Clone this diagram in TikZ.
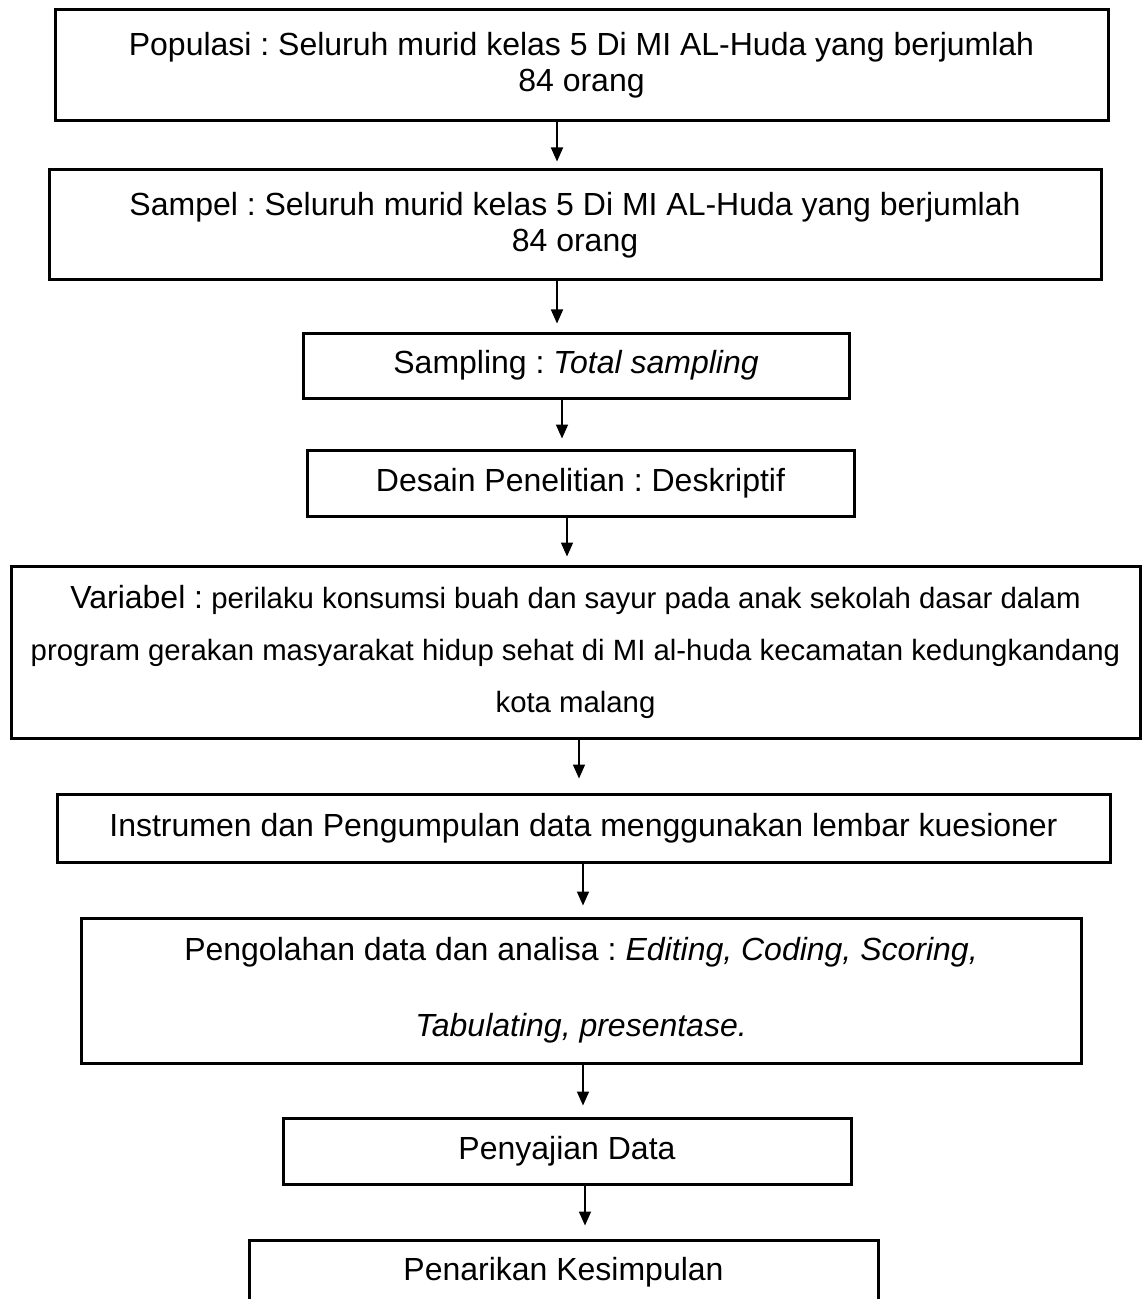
\documentclass[tikz,border=0pt]{standalone}
\usepackage{fontspec}
\setmainfont{Liberation Sans}
\usetikzlibrary{arrows.meta}
\frenchspacing
\begin{document}
\begin{tikzpicture}[x=0.5pt,y=-0.5pt,
  box/.style={draw, line width=1.5pt, inner sep=0pt, align=center,
    font=\fontsize{16}{18}\selectfont},
  arr/.style={line width=0.85pt, -{Triangle[length=7pt,width=6pt]}}]
\useasboundingbox (0,0) rectangle (1142,1299);
\clip (0,0) rectangle (1142,1299);
% boxes
\node[box, minimum width=526.5pt, minimum height=55.5pt] (b1) at (581.5,65.5)
  {Populasi : Seluruh murid kelas 5 Di MI AL-Huda yang berjumlah\\84 orang};
\node[box, minimum width=526pt, minimum height=55pt] (b2) at (575,225)
  {Sampel : Seluruh murid kelas 5 Di MI AL-Huda yang berjumlah\\84 orang};
\node[box, minimum width=273pt, minimum height=32.5pt] (b3) at (576,365.5)
  {Sampling : \textit{Total sampling}};
\node[box, minimum width=273.5pt, minimum height=33pt] (b4) at (580.5,483)
  {Desain Penelitian : Deskriptif};
\node[box, minimum width=564.5pt, minimum height=86pt,
      font=\fontsize{14.67}{26}\selectfont] (b5) at (575.5,652)
  {{\fontsize{16}{26}\selectfont Variabel :} perilaku konsumsi buah dan sayur pada anak sekolah dasar dalam\\
   program gerakan masyarakat hidup sehat di MI al-huda kecamatan kedungkandang\\
   kota malang};
\node[box, minimum width=526.5pt, minimum height=34pt] (b6) at (583.5,828)
  {Instrumen dan Pengumpulan data menggunakan lembar kuesioner};
\node[box, minimum width=500pt, minimum height=72.5pt,
      font=\fontsize{16}{38}\selectfont] (b7) at (581,990.5)
  {Pengolahan data dan analisa : \textit{Editing, Coding, Scoring,}\\
   \textit{Tabulating, presentase.}};
\node[box, minimum width=284pt, minimum height=33pt] (b8) at (567,1151)
  {Penyajian Data};
\node[box, minimum width=314.5pt, minimum height=32.5pt] (b9) at (563.5,1272.5)
  {Penarikan Kesimpulan};
% arrow columns
\coordinate (x1) at (557,0);
\coordinate (x2) at (557,0);
\coordinate (x3) at (562,0);
\coordinate (x4) at (567,0);
\coordinate (x5) at (579,0);
\coordinate (x6) at (583,0);
\coordinate (x7) at (583,0);
\coordinate (x8) at (585,0);
% connectors
\draw[arr, shorten >=3.5pt] (b1.south -| x1) -- (b2.north -| x1);
\draw[arr, shorten >=4pt]   (b2.south -| x2) -- (b3.north -| x2);
\draw[arr, shorten >=5pt]   (b3.south -| x3) -- (b4.north -| x3);
\draw[arr, shorten >=4pt]   (b4.south -| x4) -- (b5.north -| x4);
\draw[arr, shorten >=7pt]   (b5.south -| x5) -- (b6.north -| x5);
\draw[arr, shorten >=5.5pt] (b6.south -| x6) -- (b7.north -| x6);
\draw[arr, shorten >=5.5pt] (b7.south -| x7) -- (b8.north -| x7);
\draw[arr, shorten >=6.5pt] (b8.south -| x8) -- (b9.north -| x8);
\end{tikzpicture}
\end{document}
